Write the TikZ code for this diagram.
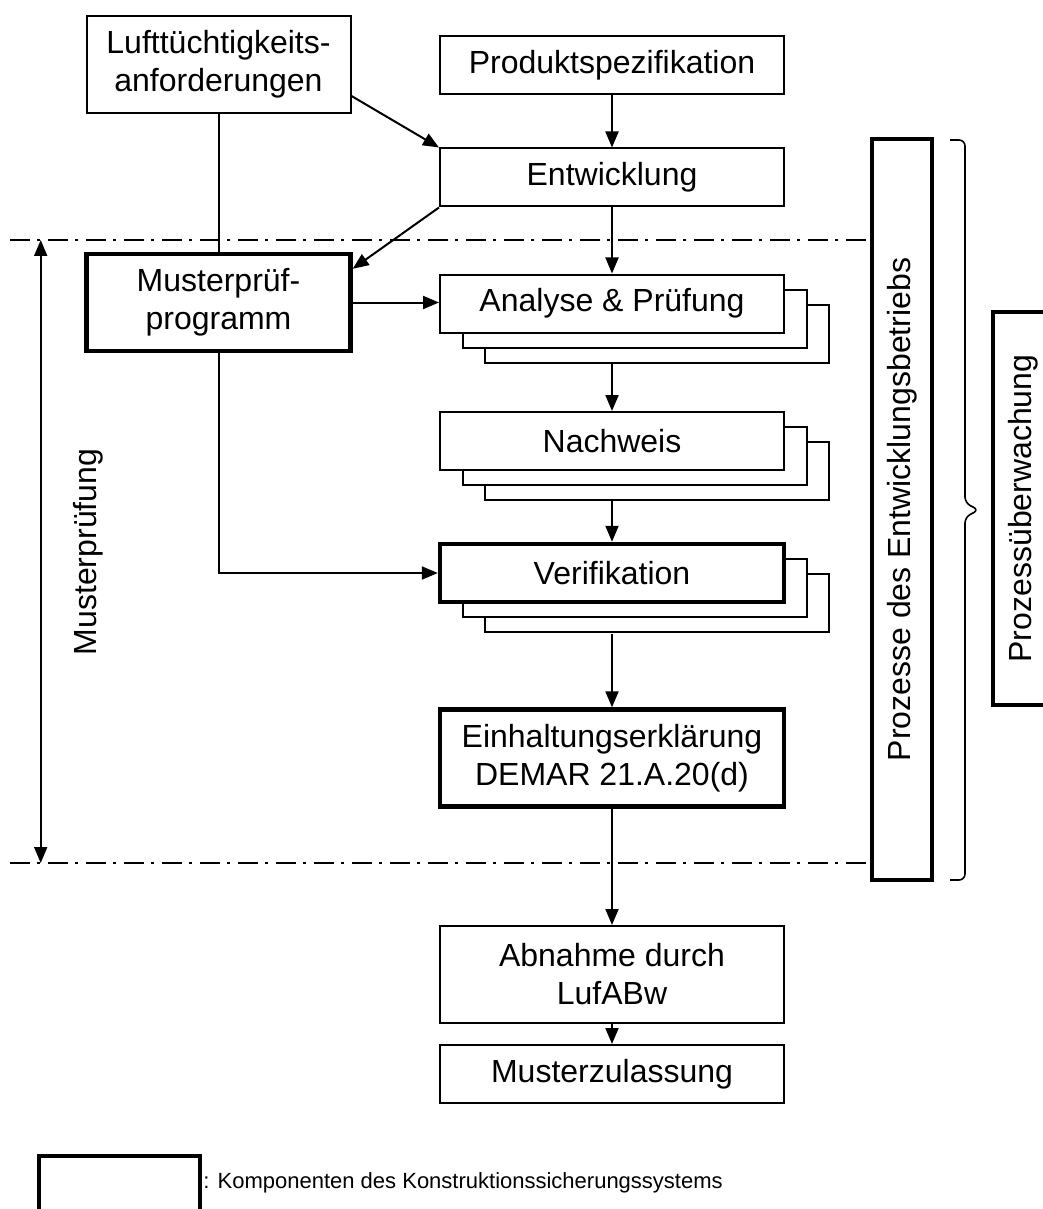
\documentclass[tikz,border=0pt]{standalone}
\usepackage{fontspec}
\setmainfont{Liberation Sans}
\usetikzlibrary{arrows.meta,shadows}

\tikzset{
  box/.style={draw,line width=1pt,fill=white,inner sep=0pt,align=center,minimum width=172pt,minimum height=29pt},
  kbox/.style={box,line width=2.2pt},
  stapel/.style={copy shadow={shadow xshift=22.5pt,shadow yshift=-15pt,draw=black,fill=white,line width=1pt},
                 copy shadow={shadow xshift=11.25pt,shadow yshift=-7.5pt,draw=black,fill=white,line width=1pt}},
  pfeil/.style={line width=1pt,-{Triangle[length=8pt,width=6.5pt]}},
  doppelpfeil/.style={line width=1pt,{Triangle[length=8pt,width=6.5pt]}-{Triangle[length=8pt,width=6.5pt]}},
  strichpunkt/.style={line width=1pt,dash pattern=on 10pt off 3.5pt on 1.5pt off 4pt},
}

\begin{document}
\begin{tikzpicture}[x=0.5pt,y=-0.5pt,every node/.style={font=\fontsize{16}{19}\selectfont}]
\useasboundingbox (0,0) rectangle (1043,1209);
% linke Spalte
\node[box,minimum width=132pt,minimum height=48.5pt] (luft) at (218.5,64.5) {Lufttüchtigkeits-\\anforderungen};
\node[kbox,minimum width=132pt,minimum height=48.5pt] (mpp) at (218.5,302.5) {Musterprüf-\\programm};
% Hauptkette
\node[box] (prod) at (612,65) {Produktspezifikation};
\node[box] (ent) at (612,177.5) {Entwicklung};
\node[box,stapel] (ana) at (612,303.5) {Analyse \& Prüfung};
\node[box,stapel] (nach) at (612,441) {Nachweis};
\node[kbox,stapel] (veri) at (612,573) {Verifikation};
\node[kbox,minimum height=48.5pt] (einh) at (612,758) {Einhaltungserklärung\\DEMAR 21.A.20(d)};
\node[box,minimum height=48.5pt] (abn) at (612,974.5) {Abnahme durch\\LufABw};
\node[box] (mz) at (612,1074) {Musterzulassung};
% rechte Seite
\node[kbox,rotate=90,minimum width=370.5pt,minimum height=30pt] (proz) at (902,509.5) {Prozesse des Entwicklungsbetriebs};
\node[kbox,rotate=90,minimum width=196.5pt,minimum height=30pt] (ueb) at (1023,508.5) {Prozessüberwachung};
\draw[line width=0.8pt,rounded corners=3pt] (950,140) -- (965,140) -- (965,503) -- (979,510) -- (965,517) -- (965,880) -- (950,880);
% Bereich Musterpruefung
\coordinate (sp1) at (10,240);
\coordinate (sp2) at (10,863);
\draw[strichpunkt] (sp1) -- (sp1 -| proz.north);
\draw[strichpunkt] (sp2) -- (sp2 -| proz.north);
\coordinate (mp1) at (40.7,240);
\coordinate (mp2) at (40.7,863);
\draw[doppelpfeil] (mp1) -- (mp2);
\node[rotate=90] (mpr) at (88,552) {Musterprüfung};
% Verbindungen
\draw[pfeil] (prod) -- (ent);
\draw[pfeil] ([yshift=9pt]luft.south east) -- (ent.north west);
\draw[pfeil] (ent.south west) -- ([yshift=-8.5pt]mpp.north east);
\draw[line width=1pt] (luft.south) -- (mpp.north);
\draw[pfeil] (ent) -- (ana);
\draw[pfeil] (mpp.east) -- (mpp.east -| ana.west);
\draw[pfeil] ([yshift=-15pt]ana.south) -- (nach);
\draw[pfeil] ([yshift=-15pt]nach.south) -- (veri);
\draw[pfeil] (mpp.south) |- (veri.west);
\draw[pfeil] ([yshift=-15pt]veri.south) -- (einh);
\draw[pfeil] (einh) -- (abn);
\draw[pfeil] (abn) -- (mz);
% Legende
\node[draw,line width=2.2pt,minimum width=80.5pt,minimum height=42pt,inner sep=0pt] (leg) at (119.5,1198) {};
\node[anchor=west,inner sep=0pt,font=\fontsize{11}{13}\selectfont] (legtext) at (203,1183) {: Komponenten des Konstruktionssicherungssystems};
\end{tikzpicture}
\end{document}
